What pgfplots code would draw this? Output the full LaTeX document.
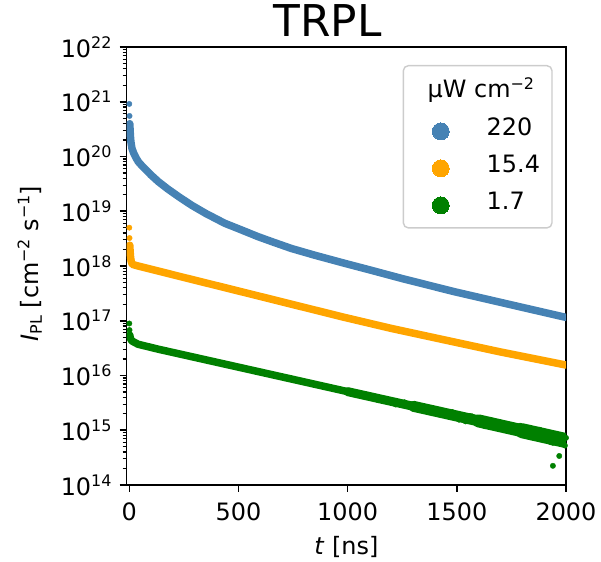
\documentclass[border=0pt]{standalone}
\usepackage{pgfplots}
\pgfplotsset{compat=1.18}
\usepackage{fontspec}
\setmainfont{DejaVu Sans}
\definecolor{cblue}{RGB}{70,130,180}
\definecolor{corange}{RGB}{255,165,0}
\definecolor{cgreen}{RGB}{0,128,0}
\newcommand{\sups}[1]{\raisebox{9bp}{\fontsize{16}{16}\selectfont #1}}
\newcommand{\tenp}[1]{10\sups{#1}}
\pgfplotsset{legdot/.style={only marks, mark=*, mark size=8.5bp,
  legend image code/.code={\path (-24.7bp,0bp) (0bp,0bp); \draw[##1, line width=0pt] plot coordinates {(0bp,4.5bp)};}}}
\begin{document}
\begin{tikzpicture}
\useasboundingbox (-126.7bp,-77bp) rectangle (474.3bp,485bp);
\begin{axis}[
  at={(0,0)}, anchor=south west,
  scale only axis, width=439.3bp, height=438bp,
  xmin=-12, xmax=2000,
  ymode=log, ymin=1e14, ymax=1e22,
  xtick={0,500,1000,1500,2000},
  xticklabels={0,500,1000,1500,2000},
  ytick={1e14,1e15,1e16,1e17,1e18,1e19,1e20,1e21,1e22},
  yticklabels={\tenp{14},\tenp{15},\tenp{16},\tenp{17},\tenp{18},\tenp{19},\tenp{20},\tenp{21},\tenp{22}},
  minor ytick={2e14,3e14,4e14,5e14,6e14,7e14,8e14,9e14,
               2e15,3e15,4e15,5e15,6e15,7e15,8e15,9e15,
               2e16,3e16,4e16,5e16,6e16,7e16,8e16,9e16,
               2e17,3e17,4e17,5e17,6e17,7e17,8e17,9e17,
               2e18,3e18,4e18,5e18,6e18,7e18,8e18,9e18,
               2e19,3e19,4e19,5e19,6e19,7e19,8e19,9e19,
               2e20,3e20,4e20,5e20,6e20,7e20,8e20,9e20,
               2e21,3e21,4e21,5e21,6e21,7e21,8e21,9e21},
  /pgf/number format/assume math mode=true,
  tick pos=left, tick align=outside,
  major tick length=7bp, minor tick length=4bp,
  every tick/.style={black, line width=1.6bp},
  minor tick style={line width=1.2bp},
  axis line style={line width=1.6bp},
  tick label style={font=\fontsize{24}{28}\selectfont},
  xticklabel style={inner sep=0pt, yshift=-11bp},
  yticklabel style={inner sep=0pt, xshift=-8bp},
  title={TRPL},
  title style={at={(axis description cs:0.4575,1.0114)}, anchor=base, inner sep=0pt, font=\fontsize{44}{50}\selectfont},
  xlabel={\textit{t} [ns]},
  xlabel style={at={(axis description cs:0.5,-0.1598)}, anchor=base, inner sep=0pt, font=\fontsize{24}{28}\selectfont},
  ylabel={\textit{I}\raisebox{-3.5bp}{\fontsize{16}{16}\selectfont PL} [cm\sups{−2} s\sups{−1}]},
  ylabel style={at={(axis description cs:-0.2008,0.505)}, anchor=base, inner sep=0pt, font=\fontsize{24}{28}\selectfont},
  legend style={at={(0.9697,0.9589)}, anchor=north east,
    draw=black!20, line width=1.4bp, rounded corners=5bp,
    fill=white,
    inner xsep=12bp, inner ysep=14bp,
    row sep=15.5bp, column sep=37.5bp,
    font=\fontsize{24}{28}\selectfont,
    nodes={inner sep=0pt, text height=17.5bp, text depth=0bp, anchor=base west}},
  legend cell align=left,
]
% ---- 220 uW cm^-2 (blue)
\addplot[cblue, line width=7.5bp, line cap=round, line join=round, mark=none, forget plot] table {
t I
2 3.98e20
3 3.39e20
4 2.82e20
5 2.40e20
6 2.09e20
7 1.91e20
8 1.78e20
10 1.58e20
12 1.41e20
20 1.15e20
30 9.55e19
41 8.04e19
60 6.61e19
80 5.50e19
100 4.57e19
133 3.47e19
175 2.57e19
225 1.86e19
285 1.29e19
350 9.12e18
437 6.03e18
500 4.79e18
590 3.43e18
660 2.72e18
742 2.09e18
850 1.57e18
986 1.12e18
1100 8.51e17
1250 5.89e17
1489 3.39e17
1750 1.95e17
2000 1.15e17
};
\addplot[only marks, mark=*, mark size=2.7bp, cblue, forget plot] table {
t I
0 9.12e20
1 5.50e20
};
% ---- 15.4 uW cm^-2 (orange)
\addplot[corange, line width=7.5bp, line cap=round, line join=round, mark=none, forget plot] table {
t I
2 2.40e18
4 1.78e18
6 1.41e18
9 1.20e18
14 1.07e18
40 1.00e18
250 6.17e17
483 3.63e17
735 2.04e17
986 1.15e17
1200 7.24e16
1420 4.68e16
1700 2.69e16
2000 1.55e16
};
\addplot[only marks, mark=*, mark size=2.7bp, corange, forget plot] table {
t I
0 5.01e18
1 3.24e18
};
% ---- 1.7 uW cm^-2 (green)
\addplot[cgreen, line width=7.5bp, line cap=round, line join=round, mark=none, forget plot] table {
t I
2 5.50e16
4 5.01e16
7 4.57e16
12 4.27e16
40 3.72e16
133 3.02e16
742 8.63e15
1000 5.07e15
};
\addplot[cgreen, line width=9bp, line cap=round, mark=none, forget plot] table {
t I
1000 5.07e15
1300 2.74e15
};
\addplot[cgreen, line width=11bp, line cap=round, mark=none, forget plot] table {
t I
1300 2.74e15
1600 1.48e15
};
\addplot[cgreen, line width=13bp, line cap=round, mark=none, forget plot] table {
t I
1600 1.48e15
1800 9.77e14
};
\addplot[cgreen, line width=15bp, line cap=round, mark=none, forget plot] table {
t I
1800 9.77e14
2000 6.47e14
};
\addplot[only marks, mark=*, mark size=2.7bp, cgreen, forget plot] table {
t I
0 8.91e16
1 6.76e16
1000 5.13e15
1020 4.68e15
1040 4.79e15
1060 4.47e15
1080 4.57e15
1100 3.98e15
1120 3.98e15
1140 3.55e15
1160 3.89e15
1180 3.39e15
1200 3.47e15
1220 2.95e15
1240 3.16e15
1260 3.24e15
1280 2.69e15
1300 2.69e15
1320 2.82e15
1340 2.34e15
1360 2.51e15
1380 2.24e15
1400 2.29e15
1420 1.95e15
1440 2.21e15
1460 1.91e15
1480 2.14e15
1500 1.66e15
1510 1.56e15
1520 1.78e15
1530 1.88e15
1540 1.45e15
1550 1.56e15
1560 1.82e15
1570 1.79e15
1580 1.45e15
1590 1.37e15
1600 1.58e15
1610 1.54e15
1620 1.23e15
1630 1.18e15
1640 1.41e15
1650 1.47e15
1660 1.51e15
1670 1.28e15
1680 1.15e15
1690 1.07e15
1700 1.17e15
1710 1.35e15
1720 1.30e15
1730 1.03e15
1740 9.77e14
1750 1.14e15
1760 1.14e15
1770 9.12e14
1780 9.62e14
1790 1.21e15
1800 1.035e15
1810 9.20e14
1820 8.02e14
1830 1.01e15
1840 1.01e15
1850 7.35e14
1860 8.28e14
1870 1.02e15
1880 1.02e15
1890 7.46e14
1900 7.00e14
1910 8.13e14
1920 7.78e14
1930 6.03e14
1940 5.89e14
1950 8.38e14
1960 8.39e14
1970 6.01e14
1980 6.17e14
1990 7.24e14
2000 7.26e14
1940 2.24e14
1969 3.39e14
1995 5.25e14
};
% ---- legend
\addlegendimage{empty legend}
\addlegendentry[text depth=5.7bp]{\hspace*{-59bp}µW cm\raisebox{8bp}{\fontsize{16}{16}\selectfont −2}}
\addlegendimage{legdot, cblue}
\addlegendentry{220}
\addlegendimage{legdot, corange}
\addlegendentry{15.4}
\addlegendimage{legdot, cgreen}
\addlegendentry{1.7}
\end{axis}
\end{tikzpicture}
\end{document}
